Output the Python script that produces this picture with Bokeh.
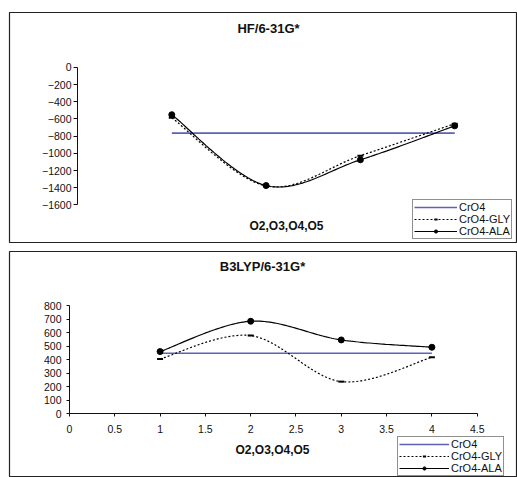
import numpy as np
from bokeh.plotting import figure
from bokeh.models import LinearAxis, FixedTicker, Range1d, Label, Legend, LegendItem
from bokeh.layouts import column
from bokeh.embed import file_html
from bokeh.resources import INLINE

# ---------------- data ----------------
positions = [1, 2, 3, 4]
series_names = ["CrO4", "CrO4-GLY", "CrO4-ALA"]
hf_title = "HF/6-31G*"
b3_title = "B3LYP/6-31G*"
x_title = "O2,O3,O4,O5"

hf_cro4 = [-765, -765, -765, -765]
hf_gly = [-585, -1380, -1027, -655]
hf_ala = [-550, -1375, -1075, -680]

b3_cro4 = [448, 448, 448, 448]
b3_gly = [406, 578, 238, 418]
b3_ala = [460, 684, 546, 492]

hf_yticks = [0, -200, -400, -600, -800, -1000, -1200, -1400, -1600]
b3_yticks = [0, 100, 200, 300, 400, 500, 600, 700, 800]
b3_xticks = [0, 0.5, 1, 1.5, 2, 2.5, 3, 3.5, 4, 4.5]

# ---------------- styles ----------------
FONT = "Liberation Sans"
BLUE = "#5d62b6"
INK = "#111111"


def smooth(xs, ys, n=40):
    """Excel-like smoothed line (cardinal Bezier through the points)."""
    P = [np.array([float(x), float(y)]) for x, y in zip(xs, ys)]
    ox, oy = [], []
    t = np.linspace(0, 1, n)
    for i in range(len(P) - 1):
        p0 = P[i - 1] if i > 0 else P[i]
        p1, p2 = P[i], P[i + 1]
        p3 = P[i + 2] if i + 2 < len(P) else P[i + 1]
        c1 = p1 + (p2 - p0) / 6.0
        c2 = p2 - (p3 - p1) / 6.0
        b = ((1 - t) ** 3)[:, None] * p1 + (3 * (1 - t) ** 2 * t)[:, None] * c1 \
            + (3 * (1 - t) * t ** 2)[:, None] * c2 + (t ** 3)[:, None] * p2
        if i > 0:
            b = b[1:]
        ox.extend(b[:, 0].tolist())
        oy.extend(b[:, 1].tolist())
    return ox, oy


def make_fig(height, top, bottom, xr, yr):
    p = figure(width=517, height=height, x_range=Range1d(*xr), y_range=Range1d(*yr),
               x_axis_type=None, y_axis_type=None, output_backend="svg",
               toolbar_location=None, min_border_left=9, min_border_right=0,
               min_border_top=top, min_border_bottom=bottom,
               outline_line_color="#222222", outline_line_width=1.2,
               background_fill_color="white", border_fill_color="white")
    return p


def style_axis(ax, size="10.5px", standoff=3, tick_out=4):
    ax.major_tick_out = tick_out
    ax.major_tick_in = 0
    ax.minor_tick_out = 0
    ax.minor_tick_in = 0
    ax.major_label_standoff = standoff
    ax.major_label_text_font = FONT
    ax.major_label_text_font_size = size
    ax.major_label_text_color = INK
    ax.axis_line_color = INK
    ax.major_tick_line_color = INK
    ax.axis_line_width = 1
    ax.major_tick_line_width = 1


def add_series(p, cro4, gly, ala):
    r0 = p.line(positions, cro4, line_color=BLUE, line_width=1.6)
    gx, gy = smooth(positions, gly)
    r1 = p.line(gx, gy, line_color="black", line_width=1.2, line_dash="2 2")
    r1m = p.scatter(positions, gly, marker="dash", size=6, line_color="black", line_width=2)
    ax_, ay_ = smooth(positions, ala)
    r2 = p.line(ax_, ay_, line_color="black", line_width=1.2)
    r2m = p.scatter(positions, ala, marker="circle", size=6, fill_color="black", line_color="black")
    return [[r0], [r1, r1m], [r2, r2m]]


def add_legend(p, groups, loc, glyph_w):
    items = [LegendItem(label=n, renderers=g) for n, g in zip(series_names, groups)]
    leg = Legend(items=items, location=loc, orientation="vertical", padding=1, spacing=0,
                 margin=0, glyph_width=glyph_w, glyph_height=8, label_height=8,
                 label_standoff=2, label_text_font=FONT, label_text_font_size="11px",
                 label_text_color=INK, border_line_color="#222222", border_line_width=1,
                 background_fill_color="white", background_fill_alpha=1)
    p.add_layout(leg, "center")


def px_to_data(px, py, xr, yr, frame):
    fl, ft, fr, fb = frame
    x = xr[0] + (px - fl) / (fr - fl) * (xr[1] - xr[0])
    y = yr[1] - (py - ft) / (fb - ft) * (yr[1] - yr[0])
    return x, y


def add_text(p, txt, pos, size):
    p.add_layout(Label(x=pos[0], y=pos[1], text=txt, text_align="center",
                       text_baseline="middle", text_font=FONT, text_font_style="bold",
                       text_font_size=size, text_color=INK))


# ---------------- top chart: HF ----------------
xr1 = (-0.721, 4.666)
yr1 = (-2038, 640)
frame1 = (9, 12, 517, 242)
p1 = make_fig(244, 12, 2, xr1, yr1)
ya1 = LinearAxis(fixed_location=0, ticker=FixedTicker(ticks=hf_yticks), bounds=(-1600, 0))
style_axis(ya1, standoff=2, tick_out=4)
p1.add_layout(ya1, "left")
g1 = add_series(p1, hf_cro4, hf_gly, hf_ala)
add_legend(p1, g1, (403, 3), 43)
add_text(p1, hf_title, px_to_data(268, 28, xr1, yr1, frame1), "13px")
add_text(p1, x_title, px_to_data(286, 225, xr1, yr1, frame1), "12px")

# ---------------- bottom chart: B3LYP ----------------
xr2 = (-0.662, 4.945)
yr2 = (-470, 1199)
frame2 = (9, 251, 517, 477)
p2 = make_fig(233, 7, 0, xr2, yr2)
ya2 = LinearAxis(fixed_location=0, ticker=FixedTicker(ticks=b3_yticks), bounds=(0, 800))
style_axis(ya2, standoff=5, tick_out=3)
p2.add_layout(ya2, "left")
xa2 = LinearAxis(fixed_location=0, ticker=FixedTicker(ticks=b3_xticks), bounds=(0, 4.5))
style_axis(xa2, standoff=8, tick_out=3)
xa2.major_label_overrides = {float(t): f"{t:g}" for t in b3_xticks}
p2.add_layout(xa2, "below")
g2 = add_series(p2, b3_cro4, b3_gly, b3_ala)
add_legend(p2, g2, (388, 1), 50)
add_text(p2, b3_title, px_to_data(262, 266, xr2, yr2, frame2), "13px")
add_text(p2, x_title, px_to_data(272, 449, xr2, yr2, frame2), "12px")

layout = column(p1, p2, spacing=0)
open("out.html", "w").write(file_html(layout, INLINE))
